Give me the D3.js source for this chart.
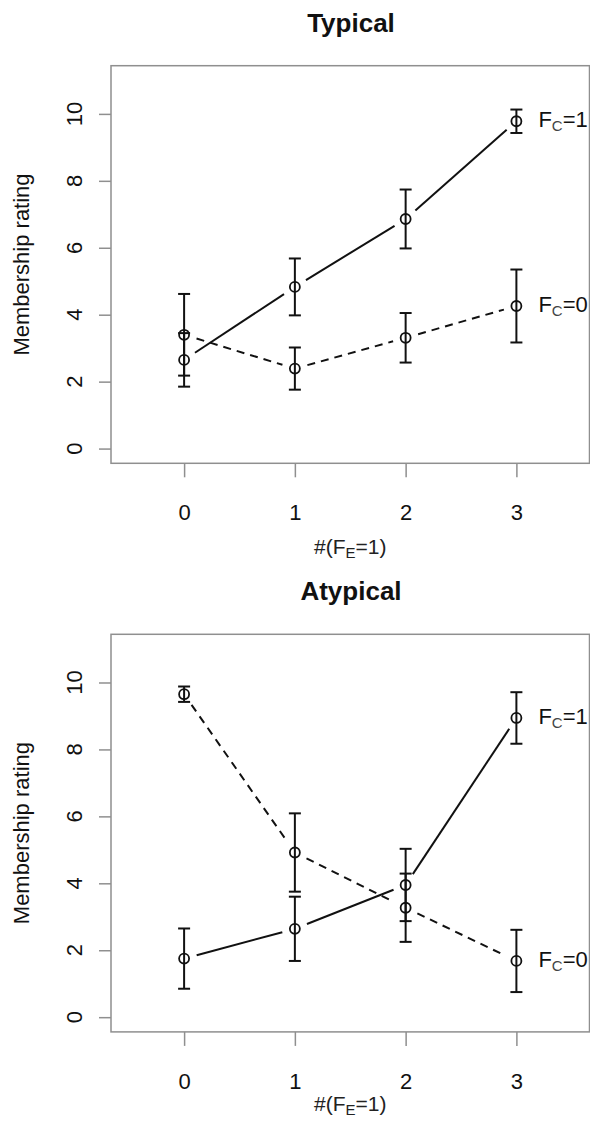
<!DOCTYPE html>
<html>
<head>
<meta charset="utf-8">
<script src="https://cdn.jsdelivr.net/npm/d3@7"></script>
<style>
  body { margin: 0; background: #fff; }
  svg { display: block; font-family: "Liberation Sans", Arial, sans-serif; }
</style>
</head>
<body>
<div id="chart"></div>
<script>
// values
const xCats = [0, 1, 2, 3];
const yTicks = [0, 2, 4, 6, 8, 10];
const panelTitles = ["Typical", "Atypical"];
const seriesLabels = ["1", "0"]; // F_C = 1, F_C = 0

const typicalFc1Mean = [2.65, 4.83, 6.86, 9.78];
const typicalFc1Err  = [0.80, 0.85, 0.88, 0.35];
const typicalFc0Mean = [3.40, 2.39, 3.31, 4.26];
const typicalFc0Err  = [1.22, 0.63, 0.74, 1.09];

const atypicalFc1Mean = [1.75, 2.64, 3.95, 8.94];
const atypicalFc1Err  = [0.90, 0.96, 1.08, 0.77];
const atypicalFc0Mean = [9.65, 4.92, 3.27, 1.68];
const atypicalFc0Err  = [0.23, 1.17, 1.02, 0.93];

const W = 590, H = 1121;
const svg = d3.select("#chart").append("svg")
  .attr("width", W)
  .attr("height", H);

const boxCol = "#8f8f8f";

function drawPanel(top, title, fc1, fc1e, fc0, fc0e, xlabOffset) {
  const box = { left: 111, right: 589.5, top: top, bottom: top + 397.6 };
  const g = svg.append("g");

  // R style: xlim (-0.5, 3.5), ylim (0, 11), 4% padding
  const x = d3.scaleLinear().domain([-0.66, 3.66]).range([box.left, box.right]);
  const y = d3.scaleLinear().domain([-0.44, 11.44]).range([box.bottom, box.top]);

  g.append("rect")
    .attr("x", box.left).attr("y", box.top)
    .attr("width", box.right - box.left).attr("height", box.bottom - box.top)
    .attr("fill", "none").attr("stroke", boxCol).attr("stroke-width", 1.5);

  // x axis
  const xAxis = g.append("g")
    .attr("transform", `translate(0,${box.bottom})`)
    .call(d3.axisBottom(x).tickValues(xCats).tickSize(14).tickPadding(27).tickFormat(d3.format("d")));
  xAxis.select(".domain").remove();
  xAxis.selectAll("line").attr("stroke", boxCol).attr("stroke-width", 1.5);
  xAxis.selectAll("text").attr("font-size", 22).attr("fill", "#111")
    .attr("font-family", "Liberation Sans, Arial, sans-serif");

  // y axis
  const yAxis = g.append("g")
    .attr("transform", `translate(${box.left},0)`)
    .call(d3.axisLeft(y).tickValues(yTicks).tickSize(12).tickFormat(d3.format("d")));
  yAxis.select(".domain").remove();
  yAxis.selectAll("line").attr("stroke", boxCol).attr("stroke-width", 1.5);
  yAxis.selectAll("text").remove();
  g.selectAll(".ytl").data(yTicks).join("text")
    .attr("transform", d => `translate(81.5,${y(d)}) rotate(-90)`)
    .attr("text-anchor", "middle")
    .attr("font-size", 22).attr("fill", "#111")
    .text(d => d);

  // y label
  g.append("text")
    .attr("transform", `translate(29,${(box.top + box.bottom) / 2}) rotate(-90)`)
    .attr("text-anchor", "middle")
    .attr("font-size", 22).attr("fill", "#111")
    .text("Membership rating");

  // x label
  const xl = g.append("text")
    .attr("x", (box.left + box.right) / 2)
    .attr("y", box.bottom + xlabOffset)
    .attr("text-anchor", "middle")
    .attr("font-size", 21).attr("fill", "#222");
  xl.append("tspan").text("#(F");
  xl.append("tspan").attr("font-size", 15).attr("dy", 4).text("E");
  xl.append("tspan").attr("dy", -4).text("=1)");

  // title
  g.append("text")
    .attr("x", 351).attr("y", top - 34)
    .attr("text-anchor", "middle")
    .attr("font-size", 26).attr("font-weight", "bold").attr("fill", "#111")
    .text(title);

  const series = [
    { mean: fc1, err: fc1e, dash: null, label: seriesLabels[0] },
    { mean: fc0, err: fc0e, dash: "8,6", label: seriesLabels[1] }
  ];

  const gap = 13;
  series.forEach(s => {
    const pts = xCats.map((c, i) => [x(c), y(s.mean[i])]);

    // lines with gaps round the points (type = "b")
    for (let i = 0; i < pts.length - 1; i++) {
      const [x1, y1] = pts[i], [x2, y2] = pts[i + 1];
      const len = Math.hypot(x2 - x1, y2 - y1);
      if (len <= 2 * gap) continue;
      const ux = (x2 - x1) / len, uy = (y2 - y1) / len;
      g.append("line")
        .attr("x1", x1 + ux * gap).attr("y1", y1 + uy * gap)
        .attr("x2", x2 - ux * gap).attr("y2", y2 - uy * gap)
        .attr("stroke", "#111").attr("stroke-width", 2)
        .attr("stroke-dasharray", s.dash);
    }

    // error bars
    xCats.forEach((c, i) => {
      const cx = x(c);
      const lo = y(s.mean[i] - s.err[i]), hi = y(s.mean[i] + s.err[i]);
      g.append("line").attr("x1", cx).attr("x2", cx).attr("y1", lo).attr("y2", hi)
        .attr("stroke", "#111").attr("stroke-width", 2);
      [lo, hi].forEach(v => {
        g.append("line").attr("x1", cx - 6).attr("x2", cx + 6).attr("y1", v).attr("y2", v)
          .attr("stroke", "#111").attr("stroke-width", 2);
      });
    });

    // points
    g.selectAll(null).data(pts).join("circle")
      .attr("cx", d => d[0]).attr("cy", d => d[1]).attr("r", 5)
      .attr("fill", "none").attr("stroke", "#111").attr("stroke-width", 1.8);

    // label at the right end
    const last = pts[pts.length - 1];
    const t = g.append("text")
      .attr("x", last[0] + 22).attr("y", last[1] + 6)
      .attr("font-size", 22).attr("fill", "#111");
    t.append("tspan").text("F");
    t.append("tspan").attr("font-size", 15).attr("dy", 4).attr("fill", "#444").text("C");
    t.append("tspan").attr("dy", -4).text("=" + s.label);
  });
}

drawPanel(65.7, panelTitles[0], typicalFc1Mean, typicalFc1Err, typicalFc0Mean, typicalFc0Err, 90.5);
drawPanel(634.3, panelTitles[1], atypicalFc1Mean, atypicalFc1Err, atypicalFc0Mean, atypicalFc0Err, 79);
</script>
</body>
</html>
